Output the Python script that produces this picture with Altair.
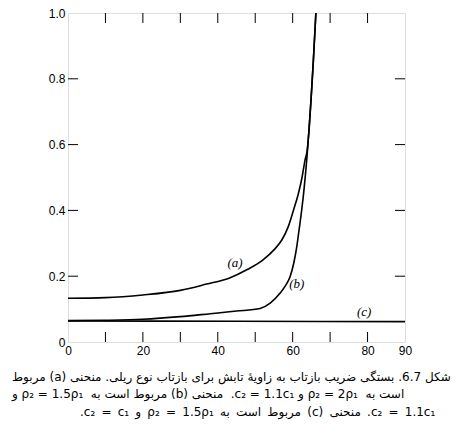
import altair as alt
import pandas as pd

# curve (a): rho2 = 2 rho1, c2 = 1.1 c1
angle_a = [0, 10, 20, 30, 37, 43, 48, 52, 55, 57.1, 58.8, 60.2, 61.5, 62.5, 63.3, 63.9, 64.4, 64.9, 65.5, 66.2]
refl_a = [0.133, 0.135, 0.143, 0.157, 0.176, 0.194, 0.221, 0.249, 0.280, 0.310, 0.35, 0.40, 0.45, 0.50, 0.553, 0.584, 0.65, 0.736, 0.85, 1.0]

# curve (b): rho2 = 1.5 rho1, c2 = 1.1 c1
angle_b = [0, 10, 20, 30, 38, 45, 51.3, 54, 56.6, 58, 59.3, 60.3, 61.1, 61.7, 62.4, 63.0, 63.75, 64.4, 64.9, 65.5, 66.2]
refl_b = [0.065, 0.066, 0.069, 0.077, 0.086, 0.094, 0.102, 0.118, 0.148, 0.17, 0.198, 0.24, 0.29, 0.34, 0.40, 0.46, 0.553, 0.65, 0.736, 0.85, 1.0]

# curve (c): rho2 = 1.5 rho1, c2 = c1
angle_c = [0, 45, 90]
refl_c = [0.064, 0.063, 0.062]

curve_labels = ["(a)", "(b)", "(c)"]
label_x = [44.6, 61.1, 79.1]
label_y = [0.239, 0.175, 0.09]

x_label_values = [0, 20, 40, 60, 80, 90]
y_label_values = [0, 0.2, 0.4, 0.6, 0.8, 1.0]
x_tick_values = [10, 20, 30, 40, 50, 60, 70, 80]
y_tick_values = [0.2, 0.4, 0.6, 0.8]

RLE, PDF = "\u202B", "\u202C"
W = "\u00A0\u00A0"   # wider word gap (justified look)
W3 = "\u00A0\u2009"
caption = [
    "شکل 6.7. بستگی ضریب بازتاب به زاویهٔ تابش برای بازتاب نوع ریلی. منحنی (a) مربوط",
    "است به" + W + "ρ₂ = 2ρ₁ و c₂ = 1.1c₁." + W + "منحنی (b) مربوط است به" + W + "ρ₂ = 1.5ρ₁ و",
    W3.join(["c₂", "=", "1.1c₁.", "منحنی", "(c)", "مربوط", "است", "به", "ρ₂", "=", "1.5ρ₁", "و", "c₂", "=", "c₁."]),
]

rows = []
for name, xs, ys in (("a", angle_a, refl_a), ("b", angle_b, refl_b), ("c", angle_c, refl_c)):
    for i, (xv, yv) in enumerate(zip(xs, ys)):
        rows.append({"series": name, "angle": xv, "R": yv, "order": i})
curves = pd.DataFrame(rows)
labels = pd.DataFrame({"text": curve_labels, "angle": label_x, "R": label_y})
xt = pd.DataFrame({"angle": x_tick_values})
yt = pd.DataFrame({"R": y_tick_values})

xscale = alt.Scale(domain=[0, 90], nice=False, zero=False)
yscale = alt.Scale(domain=[0, 1], nice=False, zero=False)
xaxis = alt.Axis(values=x_label_values, title=None, domain=False, ticks=False, grid=False,
                 labelPadding=3, labelFont="Liberation Sans", labelFontSize=12,
                 labelColor="black", labelFlush=False)
yaxis = alt.Axis(values=y_label_values, title=None, domain=False, ticks=False, grid=False,
                 labelPadding=3, labelFont="Liberation Sans", labelFontSize=12,
                 labelColor="black", labelFlush=False,
                 labelExpr="datum.value == 0 ? '0' : format(datum.value, '.1f')")

def X(f):
    return alt.X(f, type="quantitative", scale=xscale, axis=xaxis)

def Y(f):
    return alt.Y(f, type="quantitative", scale=yscale, axis=yaxis)

lines = alt.Chart(curves).mark_line(color="black", strokeWidth=1.6, interpolate="monotone").encode(
    x=X("angle"), y=Y("R"), detail="series:N", order="order:Q")

text = alt.Chart(labels).mark_text(font="Liberation Serif", fontStyle="italic",
                                   fontSize=13, color="black").encode(
    x=X("angle"), y=Y("R"), text="text:N")

tick_bottom = alt.Chart(xt).mark_rule(color="black", strokeWidth=1).encode(
    x=X("angle"), y=alt.value(329), y2=alt.value(319))
tick_top = alt.Chart(xt).mark_rule(color="black", strokeWidth=1).encode(
    x=X("angle"), y=alt.value(0), y2=alt.value(10))
tick_left = alt.Chart(yt).mark_rule(color="black", strokeWidth=1).encode(
    y=Y("R"), x=alt.value(0), x2=alt.value(10))
tick_right = alt.Chart(yt).mark_rule(color="black", strokeWidth=1).encode(
    y=Y("R"), x=alt.value(337), x2=alt.value(327))

caption_pos = [(-56, 364), (-56, 381), (12, 399)]
caption_layers = []
for line, (cx, cy) in zip(caption, caption_pos):
    caption_layers.append(
        alt.Chart(pd.DataFrame({"t": [RLE + line + PDF]})).mark_text(
            font="DejaVu Sans", fontSize=12, color="black", align="left", baseline="middle"
        ).encode(x=alt.value(cx), y=alt.value(cy), text="t:N")
    )

chart = alt.layer(lines, text, tick_bottom, tick_top, tick_left, tick_right, *caption_layers).properties(
    width=337, height=329,
    autosize=alt.AutoSizeParams(type="none"),
    padding={"left": 60, "top": 5, "right": 47, "bottom": 95},
).configure_view(stroke="black", strokeWidth=1.5).configure(background="white")

chart.save("out.html", embed_options={"renderer": "svg", "actions": False})
